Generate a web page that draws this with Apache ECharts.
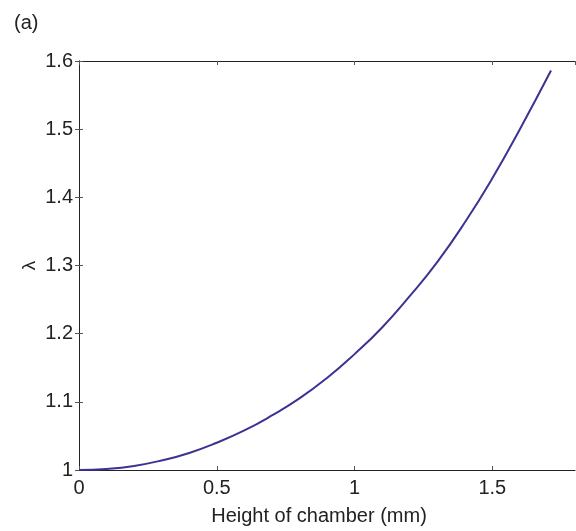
<!DOCTYPE html>
<html>
<head>
<meta charset="utf-8">
<script src="https://cdn.jsdelivr.net/npm/echarts@6/dist/echarts.min.js"></script>
<style>
    html, body { margin: 0; padding: 0; background: #fff; }
    #chart { width: 576px; height: 531px; }
</style>
</head>
<body>
<div id="chart"></div>
<script>
    // 高度 (mm) 与 λ 的读数
    var heights = [0, 0.1, 0.2, 0.3, 0.4, 0.5, 0.6, 0.7, 0.8, 0.9, 1.0, 1.1, 1.2, 1.3, 1.4, 1.5, 1.6, 1.713];
    var lambdas = [1.000, 1.0015, 1.006, 1.014, 1.025, 1.040, 1.058, 1.080, 1.105, 1.135, 1.170, 1.209, 1.255, 1.305, 1.363, 1.428, 1.500, 1.586];
    var xTicks = [0, 0.5, 1, 1.5];
    var yTicks = [1, 1.1, 1.2, 1.3, 1.4, 1.5, 1.6];

    var points = [];
    for (var i = 0; i < heights.length; i++) {
        points.push([heights[i], lambdas[i]]);
    }

    var font = 'Liberation Sans, Arial, sans-serif';
    var axisCommon = {
        axisLine: { show: true, lineStyle: { color: '#222', width: 1 } },
        axisTick: { show: true, inside: true, length: 4, lineStyle: { color: '#555' } },
        splitLine: { show: false }
    };

    var chart = echarts.init(document.getElementById('chart'));
    chart.setOption({
        animation: false,
        title: {
            text: '(a)',
            left: 9,
            top: 8,
            textStyle: { fontFamily: font, fontSize: 20, fontWeight: 'normal', color: '#222' }
        },
        grid: { left: 79, top: 61, right: 1, bottom: 60 },
        xAxis: [
            Object.assign({
                type: 'value',
                min: 0,
                max: 1.8,
                interval: 0.5,
                name: 'Height of chamber (mm)',
                nameLocation: 'middle',
                nameGap: 36,
                nameMoveOverlap: false,
                nameTextStyle: { fontFamily: font, fontSize: 20, color: '#222', padding: [0, 16, 0, 0] },
                axisLabel: {
                    fontFamily: font, fontSize: 20, color: '#222', margin: 8,
                    showMaxLabel: false,
                    formatter: function (v) { return xTicks.indexOf(v) >= 0 ? String(v) : ''; }
                }
            }, axisCommon),
            Object.assign({
                type: 'value',
                position: 'top',
                min: 0,
                max: 1.8,
                interval: 0.5,
                axisLabel: { show: false }
            }, axisCommon)
        ],
        yAxis: [
            Object.assign({
                type: 'value',
                min: 1,
                max: 1.6,
                interval: 0.1,
                name: 'λ',
                nameLocation: 'middle',
                nameGap: 40,
                nameMoveOverlap: false,
                nameRotate: 90,
                nameTextStyle: { fontFamily: font, fontSize: 19, color: '#222' },
                axisLabel: {
                    fontFamily: font, fontSize: 20, color: '#222', margin: 6,
                    formatter: function (v) {
                        var s = Math.round(v * 10) / 10;
                        return yTicks.indexOf(s) >= 0 ? (s === 1 ? '1' : s.toFixed(1)) : '';
                    }
                }
            }, axisCommon),
            Object.assign({
                type: 'value',
                position: 'right',
                min: 1,
                max: 1.6,
                interval: 0.1,
                axisLabel: { show: false }
            }, axisCommon)
        ],
        series: [{
            type: 'line',
            data: points,
            smooth: true,
            showSymbol: false,
            lineStyle: { color: '#3b3391', width: 2 }
        }]
    });
</script>
</body>
</html>
